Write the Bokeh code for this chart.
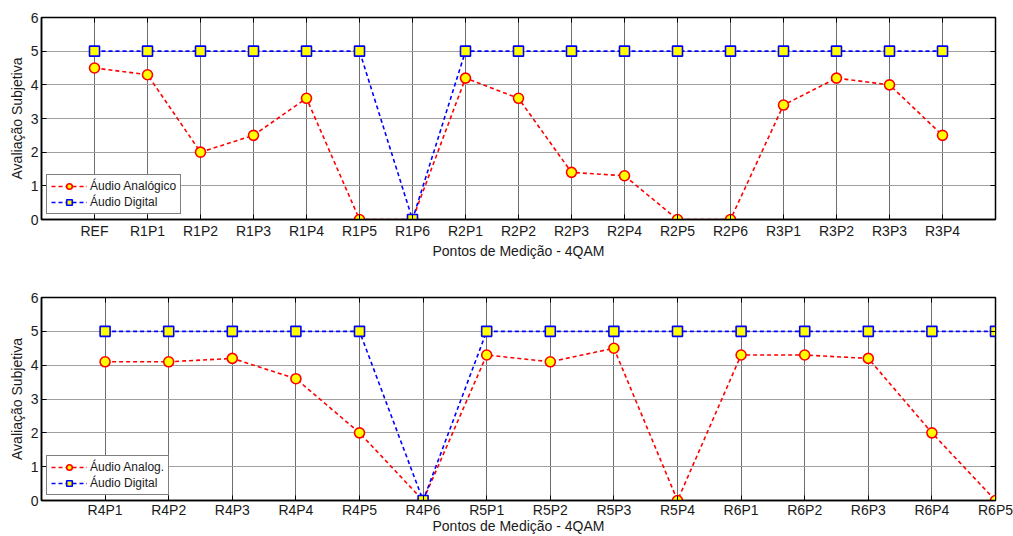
from bokeh.plotting import figure
from bokeh.layouts import column
from bokeh.models import FixedTicker, LinearAxis, Range1d, Legend
from bokeh.embed import file_html
from bokeh.resources import INLINE

cats_top = ["REF", "R1P1", "R1P2", "R1P3", "R1P4", "R1P5", "R1P6",
            "R2P1", "R2P2", "R2P3", "R2P4", "R2P5", "R2P6",
            "R3P1", "R3P2", "R3P3", "R3P4"]
analog_top = [4.5, 4.3, 2.0, 2.5, 3.6, 0, 0, 4.2, 3.6, 1.4, 1.3, 0, 0, 3.4, 4.2, 4.0, 2.5]
digital_top = [5, 5, 5, 5, 5, 5, 0, 5, 5, 5, 5, 5, 5, 5, 5, 5, 5]

cats_bot = ["R4P1", "R4P2", "R4P3", "R4P4", "R4P5", "R4P6",
            "R5P1", "R5P2", "R5P3", "R5P4",
            "R6P1", "R6P2", "R6P3", "R6P4", "R6P5"]
analog_bot = [4.1, 4.1, 4.2, 3.6, 2.0, 0, 4.3, 4.1, 4.5, 0, 4.3, 4.3, 4.2, 2.0, 0]
digital_bot = [5, 5, 5, 5, 5, 0, 5, 5, 5, 5, 5, 5, 5, 5, 5]

y_ticks = [0, 1, 2, 3, 4, 5, 6]

FONT = "Liberation Sans"


def make(cats, analog, digital, analog_label, xmax, height, top_b, bot_b, lab_so, ax_so):
    xs = list(range(1, len(cats) + 1))
    p = figure(width=1013, height=height, output_backend="svg", toolbar_location=None,
               x_range=Range1d(0, xmax), y_range=Range1d(0, 6),
               min_border_left=41, min_border_right=18, min_border_top=top_b,
               min_border_bottom=bot_b)
    p.background_fill_color = "white"
    p.border_fill_color = "white"
    p.outline_line_color = "black"
    p.outline_line_width = 1.5

    p.xaxis.ticker = FixedTicker(ticks=xs)
    p.xaxis.major_label_overrides = {x: c for x, c in zip(xs, cats)}
    p.yaxis.ticker = FixedTicker(ticks=y_ticks)
    for ax in (p.xaxis[0], p.yaxis[0]):
        ax.major_tick_in = 5
        ax.major_tick_out = 0
        ax.minor_tick_line_color = None
        ax.axis_line_color = "black"
        ax.axis_line_width = 1.5
        ax.major_label_text_font = FONT
        ax.major_label_text_font_size = "14px"
        ax.major_label_text_color = "#1a1a1a"
        ax.axis_label_text_font = FONT
        ax.axis_label_text_font_size = "14px"
        ax.axis_label_text_font_style = "normal"
        ax.axis_label_text_color = "#1a1a1a"
    p.xaxis.axis_label = "Pontos de Medição - 4QAM"
    p.yaxis.axis_label = "Avaliação Subjetiva"
    p.xaxis.major_label_standoff = lab_so
    p.xaxis.axis_label_standoff = ax_so
    p.yaxis.major_label_standoff = 3
    p.yaxis.axis_label_standoff = 3

    # tick marks on top and right (labels not drawn)
    top = LinearAxis(ticker=FixedTicker(ticks=xs), major_tick_in=5, major_tick_out=0,
                     minor_tick_line_color=None, major_label_text_font_size="1px",
                     major_label_text_color=None,
                     axis_line_color="black", major_label_standoff=0)
    right = LinearAxis(ticker=FixedTicker(ticks=y_ticks), major_tick_in=5,
                       major_tick_out=0, minor_tick_line_color=None,
                       major_label_text_font_size="1px", major_label_text_color=None,
                       axis_line_color="black", major_label_standoff=0)
    p.add_layout(top, "above")
    p.add_layout(right, "right")

    p.xgrid.ticker = FixedTicker(ticks=xs)
    p.xgrid.grid_line_color = "#6e6e6e"
    p.xgrid.grid_line_width = 1
    p.ygrid.ticker = FixedTicker(ticks=[1, 2, 3, 4, 5])
    p.ygrid.grid_line_color = "#a0a0a0"
    p.ygrid.grid_line_width = 1

    l1 = p.line(xs, analog, line_color="#ff0000", line_dash="4 3", line_width=1.6)
    s1 = p.scatter(xs, analog, marker="circle", size=10, line_color="#ff0000",
                   fill_color="#ffff00", line_width=1.6)
    l2 = p.line(xs, digital, line_color="#0000ff", line_dash="4 3", line_width=1.6)
    s2 = p.scatter(xs, digital, marker="square", size=10, line_color="#0000ff",
                   fill_color="#ffff00", line_width=1.6)

    legend = Legend(items=[(analog_label, [l1, s1]), ("Áudio Digital", [l2, s2])],
                    location="bottom_left")
    legend.label_text_font = FONT
    legend.label_text_font_size = "12px"
    legend.label_text_color = "#1a1a1a"
    legend.border_line_color = "black"
    legend.border_line_width = 1.5
    legend.background_fill_alpha = 1
    legend.glyph_width = 36
    legend.glyph_height = 14
    legend.label_height = 14
    legend.spacing = 2
    legend.padding = 4
    legend.margin = 5
    legend.label_standoff = 3
    p.add_layout(legend)
    return p


p1 = make(cats_top, analog_top, digital_top, "Áudio Analógico", 18, 268, 17, 49, 3, 1)
p2 = make(cats_bot, analog_bot, digital_bot, "Áudio Analog.", 15, 268, 29, 36, 1, -3)

p = column(p1, p2, spacing=0)
open("out.html", "w").write(file_html(p, INLINE))
